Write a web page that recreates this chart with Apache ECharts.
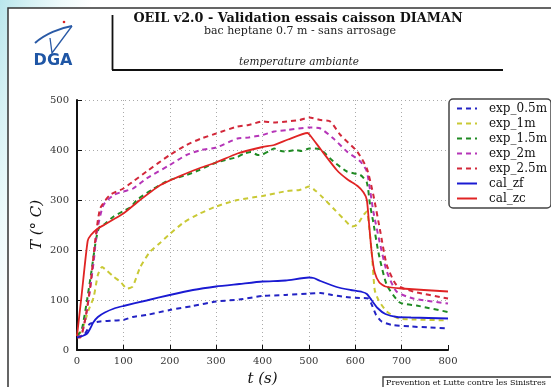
<!DOCTYPE html>
<html>
<head>
<meta charset="utf-8">
<script src="https://cdn.jsdelivr.net/npm/echarts@6/dist/echarts.min.js"></script>
<style>
  html, body { margin: 0; padding: 0; }
  body {
    width: 551px; height: 387px; overflow: hidden;
    background: linear-gradient(105deg, #b9e6ec 0px, #d6f1f4 30px, #eefafb 60px, #ffffff 90px);
  }
  #chart { width: 551px; height: 387px; }
</style>
</head>
<body>
<div id="chart"></div>
<script>
// axes
var xTicks = [0, 100, 200, 300, 400, 500, 600, 700, 800];
var yTicks = [0, 100, 200, 300, 400, 500];

// [t (s), T (°C)]
var exp05 = [[0,27],[15,30],[22,40],[27,52],[50,57],[80,59],[100,60],[120,66],[150,70],[200,80],[250,88],[300,97],[350,101],[400,108],[450,110],[500,113],[525,114],[550,110],[580,106],[610,104],[628,103],[635,92],[645,70],[657,57],[680,50],[720,47],[760,45],[800,43]];
var exp1 = [[0,30],[10,38],[25,80],[36,106],[45,150],[54,166],[65,158],[80,146],[95,135],[108,123],[120,127],[136,165],[157,196],[180,215],[200,232],[230,255],[265,273],[300,287],[346,300],[400,308],[453,318],[480,320],[501,327],[515,318],[530,305],[553,283],[575,262],[593,247],[604,250],[618,270],[625,277],[630,245],[636,190],[642,120],[650,100],[668,77],[694,63],[730,61],[800,59]];
var exp15 = [[0,28],[10,40],[20,90],[30,150],[40,215],[45,238],[50,248],[60,252],[79,267],[100,278],[115,285],[129,300],[164,322],[200,340],[236,350],[264,360],[300,375],[320,380],[346,386],[360,393],[375,396],[390,390],[400,391],[415,398],[425,403],[440,398],[453,397],[470,400],[485,398],[501,403],[525,401],[553,377],[582,357],[611,350],[625,335],[632,290],[639,255],[650,195],[668,130],[696,95],[732,89],[800,76]];
var exp2 = [[0,27],[7,27],[21,77],[36,177],[43,237],[57,290],[79,310],[100,317],[121,323],[150,343],[200,370],[236,390],[268,400],[300,405],[346,423],[370,425],[400,430],[425,437],[453,440],[501,445],[525,443],[553,423],[582,397],[611,377],[625,357],[639,277],[654,210],[668,157],[689,117],[725,103],[800,93]];
var exp25 = [[0,25],[7,25],[18,63],[29,130],[39,217],[50,283],[71,310],[100,323],[121,337],[150,357],[200,390],[236,410],[268,423],[300,433],[346,447],[370,450],[400,457],[425,455],[453,457],[480,460],[501,465],[525,460],[546,457],[568,430],[604,397],[625,363],[639,310],[654,237],[668,170],[689,130],[725,117],[800,103]];
var calZf = [[0,25],[12,28],[22,33],[28,42],[35,55],[45,66],[60,75],[80,83],[100,88],[150,99],[200,110],[250,120],[300,127],[350,132],[400,137],[450,139],[500,145],[510,144],[525,138],[560,126],[590,120],[615,116],[625,112],[635,100],[648,84],[665,72],[690,66],[720,65],[800,63]];
var calZc = [[0,28],[10,110],[23,218],[30,230],[45,243],[60,251],[80,262],[100,273],[136,300],[180,330],[230,351],[268,365],[300,375],[346,393],[400,406],[425,410],[455,421],[497,434],[502,430],[525,402],[560,360],[582,342],[605,328],[618,315],[625,300],[630,250],[636,190],[642,155],[652,135],[665,127],[700,123],[800,117]];

var names = ["exp_0.5m", "exp_1m", "exp_1.5m", "exp_2m", "exp_2.5m", "cal_zf", "cal_zc"];
var datas = [exp05, exp1, exp15, exp2, exp25, calZf, calZc];
var colors = ["#2323c4", "#c9c935", "#1f8a23", "#b535b8", "#d2283a", "#1a1ad2", "#e02424"];

var serif = "'DejaVu Serif', serif";

var series = names.map(function (n, i) {
  var dashed = n.indexOf("exp") === 0;
  return {
    name: n,
    type: "line",
    data: datas[i],
    showSymbol: false,
    symbol: "none",
    smooth: 0.2,
    animation: false,
    lineStyle: { color: colors[i], width: dashed ? 2 : 1.8, type: dashed ? [5, 4] : "solid" },
    itemStyle: { color: colors[i] }
  };
});

var chart = echarts.init(document.getElementById("chart"));
chart.setOption({
  animation: false,
  backgroundColor: "transparent",
  grid: { left: 77, right: 103, top: 100, bottom: 37, outerBoundsMode: "none", containLabel: false },
  legend: {
    orient: "vertical",
    left: 449,
    top: 99,
    data: names,
    itemWidth: 20,
    itemHeight: 14,
    itemGap: 0,
    padding: [2, 4, 2, 7],
    backgroundColor: "#fff",
    borderColor: "#444",
    borderWidth: 1.5,
    borderRadius: 4,
    itemStyle: { opacity: 0 },
    textStyle: { fontFamily: serif, fontSize: 12, color: "#111", lineHeight: 15, padding: [0, 0, 0, 7] }
  },
  xAxis: {
    type: "value",
    min: 0, max: 800, interval: 100,
    name: "t (s)",
    nameLocation: "middle",
    nameGap: 22,
    nameTextStyle: { fontFamily: serif, fontStyle: "italic", fontSize: 15, color: "#111" },
    axisLine: { show: true, lineStyle: { color: "#111", width: 2 } },
    axisTick: { show: true, inside: true, length: 5, lineStyle: { color: "#111", width: 1 } },
    axisLabel: { fontFamily: serif, fontSize: 10, color: "#333", margin: 6,
      formatter: function (v) { return xTicks.indexOf(v) >= 0 ? String(v) : ""; } },
    splitLine: { show: true, showMaxLine: false, lineStyle: { color: "#aaa", type: [1, 3], width: 1 } }
  },
  yAxis: {
    type: "value",
    min: 0, max: 500, interval: 100,
    name: "T (° C)",
    nameLocation: "middle",
    nameRotate: 90,
    nameGap: 32,
    nameMoveOverlap: false,
    nameTextStyle: { fontFamily: serif, fontStyle: "italic", fontSize: 15, color: "#111" },
    axisLine: { show: true, lineStyle: { color: "#111", width: 2 } },
    axisTick: { show: true, inside: true, length: 5, lineStyle: { color: "#111", width: 1 } },
    axisLabel: { fontFamily: serif, fontSize: 10, color: "#333", margin: 8,
      formatter: function (v) { return yTicks.indexOf(v) >= 0 ? String(v) : ""; } },
    splitLine: { show: true, lineStyle: { color: "#aaa", type: [1, 3], width: 1 } }
  },
  graphic: [
    // page frame
    { type: "rect", z: -10, shape: { x: 8, y: 8, width: 600, height: 420 },
      style: { fill: "#fff", stroke: "#333", lineWidth: 1.5 } },
    // DGA logo
    { type: "bezierCurve", z: 10, shape: { x1: 35, y1: 43, x2: 72, y2: 26, cpx1: 45, cpy1: 34, cpx2: 60, cpy2: 28 },
      style: { stroke: "#2a5aa6", lineWidth: 2, fill: null } },
    { type: "polyline", z: 10, shape: { points: [[72, 26], [52, 53], [50, 38]] },
      style: { stroke: "#2a5aa6", lineWidth: 1.3, fill: null } },
    { type: "circle", z: 10, shape: { cx: 64, cy: 22, r: 1.3 }, style: { fill: "#d22" } },
    { type: "text", z: 10, style: { text: "DGA", x: 53, y: 61, textAlign: "center", textVerticalAlign: "middle",
      font: "bold 16px 'DejaVu Sans', sans-serif", fill: "#1f56a5" } },
    // title block
    { type: "line", z: 10, shape: { x1: 112.5, y1: 15, x2: 112.5, y2: 70 }, style: { stroke: "#111", lineWidth: 1.8 } },
    { type: "line", z: 10, shape: { x1: 112, y1: 70, x2: 503, y2: 70 }, style: { stroke: "#111", lineWidth: 1.8 } },
    { type: "text", z: 10, style: { text: "OEIL v2.0 - Validation essais caisson DIAMAN", x: 298, y: 19,
      textAlign: "center", textVerticalAlign: "middle", font: "bold 12.8px " + serif, fill: "#111" } },
    { type: "text", z: 10, style: { text: "bac heptane 0.7 m - sans arrosage", x: 300, y: 31,
      textAlign: "center", textVerticalAlign: "middle", font: "11px " + serif, fill: "#222" } },
    { type: "text", z: 10, style: { text: "temperature ambiante", x: 299, y: 62,
      textAlign: "center", textVerticalAlign: "middle", font: "italic 10.5px " + serif, fill: "#222" } },
    // footer box
    { type: "rect", z: 10, shape: { x: 383, y: 377, width: 200, height: 30 },
      style: { fill: "#fff", stroke: "#333", lineWidth: 1.3 } },
    { type: "text", z: 11, style: { text: "Prevention et Lutte contre les Sinistres", x: 386, y: 383,
      textAlign: "left", textVerticalAlign: "middle", font: "8px " + serif, fill: "#111" } }
  ],
  series: series
});
</script>
</body>
</html>
